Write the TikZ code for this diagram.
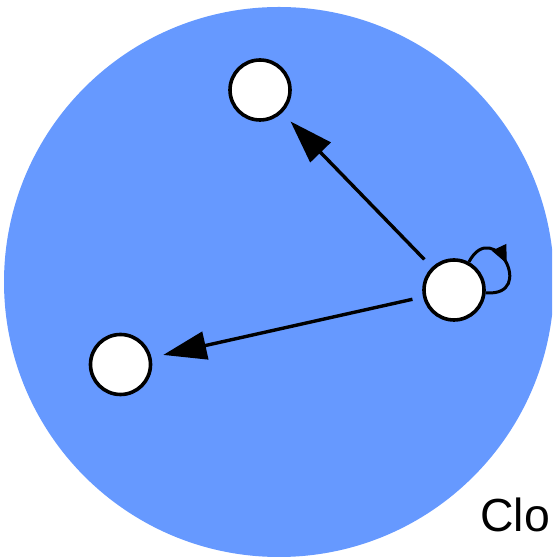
\documentclass[tikz,border=0pt]{standalone}
\usepackage{fontspec}
\setmainfont{Liberation Sans}
\usetikzlibrary{arrows.meta,decorations.markings}
\definecolor{cloudblue}{RGB}{102,153,255}

\tikzset{
    peer/.style={circle, draw=black, fill=white, line width=0.09cm, minimum size=1.5cm, inner sep=0pt},
    link/.style={line width=0.085cm, -{Triangle[length=1.08cm,width=0.7cm]}, shorten >=0.3cm, shorten <=0.27cm},
    selfloop/.style={line width=0.075cm,
        decoration={markings, mark=at position 0.52 with {\arrow{Triangle[length=0.45cm,width=0.38cm]}}},
        postaction={decorate}},
}

\begin{document}
\begin{tikzpicture}
    \useasboundingbox (0,0) rectangle (13.8,13.975);
    \clip (0,0) rectangle (13.8,13.975);
    % the cloud
    \fill [cloudblue] (6.975,6.925) circle (6.875);
    % peers
    \node[peer] (top) at (6.5,11.725) {};
    \node[peer] (left) at (3.0125,4.8625) {};
    \node[peer] (right) at (11.35,6.725) {};
    % messages
    \draw[link] (right) -- (top);
    \draw[link] (right) -- (left);
    \draw[selfloop] (right) to[out=62,in=-5,distance=1.3cm] (right);
    \node[anchor=base west, inner sep=0pt, font=\fontsize{33}{40}\selectfont] (label) at (12.0,0.675) {Clo};
\end{tikzpicture}
\end{document}
